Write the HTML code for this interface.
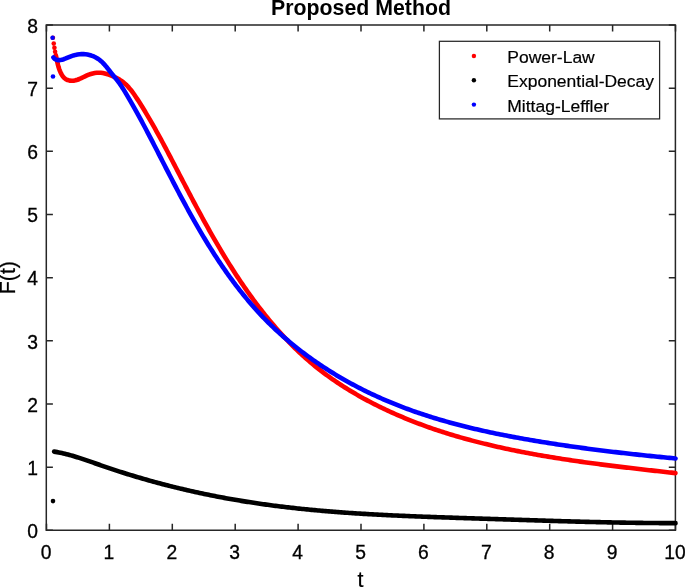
<!DOCTYPE html>
<html><head><meta charset="utf-8"><title>Proposed Method</title>
<style>html,body{margin:0;padding:0;background:#fff;overflow:hidden}svg{display:block}</style></head>
<body><svg width="685" height="587" viewBox="0 0 685 587">
<rect width="685" height="587" fill="#fff"/>
<path d="M46.3 25.0H675.4M46.3 530.3H675.4M46.3 25.0V530.3M675.4 25.0V530.3" fill="none" stroke="#262626" stroke-width="1.5" stroke-linecap="square"/>
<path d="M46.50 530.3V523.70M46.50 25.0V31.60M109.40 530.3V523.70M109.40 25.0V31.60M172.30 530.3V523.70M172.30 25.0V31.60M235.20 530.3V523.70M235.20 25.0V31.60M298.10 530.3V523.70M298.10 25.0V31.60M361.00 530.3V523.70M361.00 25.0V31.60M423.90 530.3V523.70M423.90 25.0V31.60M486.80 530.3V523.70M486.80 25.0V31.60M549.70 530.3V523.70M549.70 25.0V31.60M612.60 530.3V523.70M612.60 25.0V31.60M675.50 530.3V523.70M675.50 25.0V31.60M46.3 530.30H52.90M675.4 530.30H668.80M46.3 467.14H52.90M675.4 467.14H668.80M46.3 403.97H52.90M675.4 403.97H668.80M46.3 340.81H52.90M675.4 340.81H668.80M46.3 277.65H52.90M675.4 277.65H668.80M46.3 214.49H52.90M675.4 214.49H668.80M46.3 151.32H52.90M675.4 151.32H668.80M46.3 88.16H52.90M675.4 88.16H668.80M46.3 25.00H52.90M675.4 25.00H668.80" stroke="#262626" stroke-width="1.5" fill="none"/>
<g font-family="Liberation Sans, Arial, sans-serif" font-size="19.3" fill="#000" stroke="#000" stroke-width="0.3"><text x="46.00" y="559" text-anchor="middle">0</text><text x="108.90" y="559" text-anchor="middle">1</text><text x="171.80" y="559" text-anchor="middle">2</text><text x="234.70" y="559" text-anchor="middle">3</text><text x="297.60" y="559" text-anchor="middle">4</text><text x="360.50" y="559" text-anchor="middle">5</text><text x="423.40" y="559" text-anchor="middle">6</text><text x="486.30" y="559" text-anchor="middle">7</text><text x="549.20" y="559" text-anchor="middle">8</text><text x="612.10" y="559" text-anchor="middle">9</text><text x="675.00" y="559" text-anchor="middle">10</text><text x="38" y="538.10" text-anchor="end">0</text><text x="38" y="474.94" text-anchor="end">1</text><text x="38" y="411.77" text-anchor="end">2</text><text x="38" y="348.61" text-anchor="end">3</text><text x="38" y="285.45" text-anchor="end">4</text><text x="38" y="222.29" text-anchor="end">5</text><text x="38" y="159.12" text-anchor="end">6</text><text x="38" y="95.96" text-anchor="end">7</text><text x="38" y="32.80" text-anchor="end">8</text></g>
<text x="360.5" y="586.6" text-anchor="middle" font-family="Liberation Sans, Arial, sans-serif" font-size="21.3" fill="#000" stroke="#000" stroke-width="0.25">t</text>
<text transform="translate(15.3 277.6) rotate(-90)" x="0" y="0" text-anchor="middle" font-family="Liberation Sans, Arial, sans-serif" font-size="21.3" fill="#000" stroke="#000" stroke-width="0.25">F(t)</text>
<text x="361.0" y="15.4" text-anchor="middle" font-family="Liberation Sans, Arial, sans-serif" font-weight="bold" font-size="21.3" fill="#000">Proposed Method</text>
<path d="M55.81 55.19L56.29 57.23L56.72 59.24L57.14 61.22L57.57 63.18L58.04 65.13L58.56 67.06L59.17 68.98L59.89 70.90L60.74 72.81L61.74 74.68L62.91 76.42L64.28 77.96L65.87 79.20L67.67 80.08L69.63 80.60L71.63 80.79L73.62 80.68L75.56 80.32L77.48 79.74L79.38 79.01L81.26 78.17L83.14 77.27L85.03 76.34L86.93 75.46L88.85 74.65L90.79 73.97L92.77 73.43L94.76 73.04L96.76 72.80L98.77 72.72L100.78 72.81L102.78 73.07L104.76 73.47L106.74 74.00L108.69 74.64L110.63 75.37L112.54 76.16L114.42 77.00L116.27 77.88L118.07 78.83L119.81 79.85L121.50 80.95L123.11 82.13L124.65 83.40L126.12 84.74L127.53 86.15L128.89 87.63L130.20 89.16L131.47 90.74L132.69 92.36L133.89 94.01L135.05 95.70L136.19 97.41L137.32 99.13L138.43 100.86L139.54 102.59L140.63 104.33L141.72 106.07L142.80 107.81L143.87 109.56L144.94 111.31L145.99 113.07L147.04 114.82L148.08 116.58L149.12 118.34L150.15 120.11L151.17 121.88L152.19 123.65L153.20 125.42L154.21 127.20L155.21 128.98L156.20 130.76L157.19 132.54L158.18 134.33L159.16 136.11L160.14 137.90L161.11 139.69L162.08 141.48L163.05 143.28L164.01 145.07L164.97 146.87L165.92 148.67L166.88 150.47L167.83 152.27L168.78 154.07L169.72 155.88L170.67 157.68L171.61 159.49L172.55 161.29L173.50 163.10L174.44 164.91L175.38 166.71L176.31 168.52L177.25 170.33L178.19 172.14L179.13 173.95L180.07 175.76L181.01 177.57L181.95 179.38L182.89 181.19L183.84 183.00L184.78 184.81L185.72 186.61L186.67 188.42L187.62 190.23L188.57 192.04L189.52 193.85L190.47 195.65L191.42 197.46L192.38 199.26L193.33 201.07L194.29 202.87L195.25 204.67L196.21 206.47L197.18 208.27L198.15 210.07L199.12 211.87L200.09 213.66L201.06 215.46L202.04 217.25L203.02 219.04L204.00 220.83L204.99 222.62L205.98 224.41L206.97 226.19L207.96 227.97L208.96 229.75L209.96 231.53L210.97 233.31L211.98 235.09L212.99 236.86L214.00 238.63L215.02 240.40L216.05 242.16L217.07 243.92L218.11 245.69L219.14 247.44L220.18 249.20L221.23 250.95L222.27 252.70L223.33 254.45L224.38 256.19L225.45 257.93L226.51 259.67L227.59 261.40L228.66 263.13L229.75 264.86L230.83 266.59L231.92 268.31L233.02 270.03L234.13 271.74L235.23 273.45L236.35 275.16L237.47 276.86L238.59 278.56L239.73 280.25L240.86 281.94L242.01 283.63L243.16 285.31L244.31 286.99L245.48 288.67L246.64 290.34L247.82 292.00L249.00 293.67L250.19 295.32L251.38 296.97L252.59 298.62L253.79 300.27L255.01 301.90L256.23 303.54L257.46 305.16L258.70 306.79L259.95 308.41L261.20 310.02L262.46 311.63L263.73 313.23L265.00 314.83L266.29 316.42L267.58 318.00L268.88 319.59L270.18 321.16L271.50 322.73L272.82 324.29L274.15 325.85L275.49 327.40L276.84 328.94L278.20 330.48L279.56 332.01L280.93 333.53L282.32 335.05L283.70 336.55L285.10 338.05L286.50 339.53L287.92 341.01L289.34 342.48L290.77 343.94L292.20 345.39L293.65 346.83L295.10 348.26L296.56 349.68L298.03 351.09L299.50 352.49L300.99 353.87L302.48 355.25L303.98 356.61L305.49 357.96L307.01 359.30L308.54 360.63L310.07 361.95L311.62 363.26L313.17 364.56L314.74 365.85L316.31 367.13L317.90 368.39L319.49 369.65L321.09 370.89L322.71 372.13L324.33 373.35L325.97 374.56L327.61 375.76L329.26 376.96L330.92 378.14L332.59 379.31L334.27 380.47L335.96 381.62L337.66 382.76L339.36 383.89L341.07 385.01L342.79 386.12L344.52 387.22L346.25 388.31L347.99 389.39L349.74 390.46L351.50 391.52L353.26 392.56L355.03 393.60L356.80 394.63L358.58 395.65L360.37 396.66L362.16 397.66L363.96 398.65L365.76 399.63L367.57 400.60L369.39 401.56L371.20 402.51L373.03 403.45L374.85 404.38L376.68 405.31L378.52 406.22L380.36 407.12L382.20 408.01L384.04 408.90L385.89 409.77L387.75 410.64L389.60 411.50L391.46 412.34L393.32 413.18L395.19 414.01L397.06 414.83L398.93 415.64L400.81 416.44L402.69 417.24L404.57 418.02L406.45 418.80L408.34 419.57L410.23 420.33L412.13 421.08L414.03 421.82L415.93 422.56L417.83 423.29L419.74 424.00L421.64 424.72L423.56 425.42L425.47 426.11L427.39 426.80L429.31 427.48L431.23 428.15L433.16 428.81L435.08 429.47L437.01 430.12L438.95 430.76L440.88 431.40L442.82 432.02L444.76 432.64L446.70 433.26L448.65 433.86L450.59 434.46L452.54 435.05L454.49 435.64L456.45 436.21L458.40 436.78L460.36 437.35L462.32 437.91L464.28 438.46L466.25 439.00L468.21 439.54L470.18 440.07L472.15 440.60L474.12 441.12L476.09 441.63L478.07 442.14L480.04 442.64L482.02 443.14L484.00 443.63L485.98 444.11L487.97 444.59L489.95 445.07L491.94 445.53L493.92 445.99L495.91 446.45L497.90 446.90L499.89 447.35L501.89 447.79L503.88 448.22L505.88 448.65L507.87 449.08L509.87 449.50L511.87 449.91L513.87 450.33L515.87 450.73L517.87 451.13L519.88 451.53L521.88 451.92L523.89 452.31L525.89 452.69L527.90 453.07L529.91 453.44L531.92 453.82L533.92 454.18L535.93 454.54L537.94 454.90L539.96 455.26L541.97 455.61L543.98 455.95L545.99 456.30L548.01 456.63L550.02 456.97L552.03 457.30L554.05 457.63L556.06 457.95L558.08 458.28L560.10 458.59L562.11 458.91L564.13 459.22L566.15 459.53L568.17 459.83L570.18 460.14L572.20 460.44L574.22 460.73L576.24 461.03L578.26 461.32L580.28 461.61L582.31 461.89L584.33 462.17L586.35 462.45L588.37 462.73L590.39 463.01L592.42 463.28L594.44 463.55L596.46 463.82L598.49 464.08L600.51 464.35L602.53 464.61L604.56 464.87L606.58 465.12L608.61 465.38L610.63 465.63L612.66 465.89L614.68 466.14L616.71 466.38L618.73 466.63L620.76 466.88L622.79 467.12L624.81 467.36L626.84 467.60L628.87 467.84L630.89 468.08L632.92 468.32L634.95 468.55L636.97 468.79L639.00 469.02L641.03 469.25L643.05 469.49L645.08 469.72L647.11 469.95L649.13 470.17L651.16 470.40L653.19 470.63L655.21 470.86L657.24 471.08L659.27 471.31L661.29 471.54L663.32 471.76L665.35 471.99L667.37 472.21L669.40 472.44L671.43 472.66L673.45 472.89L675.48 473.11" fill="none" stroke="#ff0000" stroke-width="4.6" stroke-linecap="round" stroke-linejoin="round"/>
<circle cx="52.9" cy="37.8" r="2.3" fill="#ff0000"/>
<circle cx="53.77" cy="43.6" r="2.3" fill="#ff0000"/>
<circle cx="54.43" cy="47.84" r="2.3" fill="#ff0000"/>
<circle cx="55.1" cy="51.7" r="2.3" fill="#ff0000"/>
<path d="M54.12 451.61L55.68 451.87L57.23 452.14L58.78 452.44L60.32 452.75L61.86 453.08L63.39 453.43L64.92 453.79L66.44 454.17L67.96 454.57L69.48 454.97L70.99 455.39L72.50 455.82L74.01 456.26L75.51 456.72L77.01 457.18L78.51 457.65L80.01 458.13L81.51 458.61L83.00 459.11L84.49 459.61L85.98 460.11L87.47 460.62L88.96 461.13L90.45 461.65L91.94 462.17L93.43 462.69L94.91 463.22L96.40 463.74L97.89 464.26L99.38 464.78L100.86 465.31L102.35 465.82L103.84 466.34L105.33 466.85L106.83 467.36L108.32 467.87L109.81 468.37L111.31 468.87L112.80 469.37L114.30 469.87L115.80 470.36L117.30 470.85L118.80 471.33L120.30 471.82L121.80 472.30L123.30 472.77L124.81 473.25L126.31 473.72L127.82 474.19L129.33 474.65L130.83 475.11L132.34 475.57L133.85 476.03L135.36 476.48L136.87 476.93L138.38 477.38L139.90 477.83L141.41 478.27L142.92 478.71L144.44 479.14L145.96 479.58L147.47 480.01L148.99 480.43L150.51 480.86L152.03 481.28L153.55 481.70L155.07 482.11L156.59 482.53L158.11 482.94L159.64 483.34L161.16 483.75L162.69 484.15L164.21 484.55L165.74 484.94L167.26 485.34L168.79 485.72L170.32 486.11L171.85 486.50L173.38 486.88L174.91 487.26L176.44 487.63L177.97 488.00L179.51 488.37L181.04 488.74L182.57 489.10L184.11 489.46L185.64 489.82L187.18 490.18L188.72 490.53L190.25 490.88L191.79 491.23L193.33 491.57L194.87 491.91L196.41 492.25L197.95 492.59L199.49 492.92L201.03 493.25L202.57 493.58L204.12 493.90L205.66 494.22L207.20 494.54L208.75 494.86L210.29 495.17L211.84 495.48L213.38 495.79L214.93 496.10L216.48 496.40L218.03 496.70L219.57 496.99L221.12 497.29L222.67 497.58L224.22 497.87L225.77 498.15L227.32 498.43L228.87 498.71L230.42 498.99L231.97 499.27L233.53 499.54L235.08 499.81L236.63 500.07L238.19 500.34L239.74 500.60L241.29 500.86L242.85 501.11L244.40 501.36L245.96 501.61L247.52 501.86L249.07 502.10L250.63 502.35L252.19 502.59L253.74 502.82L255.30 503.06L256.86 503.29L258.42 503.51L259.98 503.74L261.53 503.96L263.09 504.18L264.65 504.40L266.21 504.62L267.77 504.83L269.33 505.04L270.90 505.25L272.46 505.45L274.02 505.66L275.58 505.86L277.14 506.06L278.71 506.25L280.27 506.45L281.83 506.64L283.40 506.83L284.96 507.01L286.52 507.20L288.09 507.38L289.65 507.56L291.22 507.74L292.78 507.91L294.35 508.08L295.91 508.25L297.48 508.42L299.05 508.59L300.61 508.76L302.18 508.92L303.75 509.08L305.31 509.24L306.88 509.39L308.45 509.55L310.02 509.70L311.59 509.85L313.15 510.00L314.72 510.14L316.29 510.29L317.86 510.43L319.43 510.57L321.00 510.71L322.57 510.85L324.14 510.98L325.71 511.12L327.28 511.25L328.85 511.38L330.42 511.51L331.99 511.63L333.57 511.76L335.14 511.88L336.71 512.00L338.28 512.12L339.85 512.24L341.43 512.36L343.00 512.47L344.57 512.59L346.14 512.70L347.72 512.81L349.29 512.92L350.86 513.02L352.44 513.13L354.01 513.23L355.58 513.34L357.16 513.44L358.73 513.54L360.31 513.64L361.88 513.73L363.46 513.83L365.03 513.92L366.61 514.02L368.18 514.11L369.75 514.20L371.33 514.29L372.91 514.38L374.48 514.47L376.06 514.55L377.63 514.64L379.21 514.72L380.78 514.80L382.36 514.89L383.94 514.97L385.51 515.05L387.09 515.12L388.66 515.20L390.24 515.28L391.82 515.35L393.39 515.43L394.97 515.50L396.55 515.57L398.12 515.64L399.70 515.71L401.28 515.78L402.85 515.85L404.43 515.92L406.01 515.99L407.59 516.05L409.16 516.12L410.74 516.19L412.32 516.25L413.89 516.31L415.47 516.38L417.05 516.44L418.63 516.50L420.20 516.56L421.78 516.62L423.36 516.68L424.94 516.74L426.51 516.80L428.09 516.86L429.67 516.91L431.25 516.97L432.82 517.03L434.40 517.08L435.98 517.14L437.56 517.19L439.13 517.25L440.71 517.30L442.29 517.35L443.87 517.41L445.44 517.46L447.02 517.51L448.60 517.57L450.17 517.62L451.75 517.67L453.33 517.72L454.91 517.77L456.48 517.83L458.06 517.88L459.64 517.93L461.21 517.98L462.79 518.03L464.37 518.08L465.95 518.13L467.52 518.18L469.10 518.23L470.68 518.28L472.25 518.33L473.83 518.38L475.40 518.43L476.98 518.48L478.56 518.54L480.13 518.59L481.71 518.64L483.28 518.69L484.86 518.74L486.44 518.79L488.01 518.84L489.59 518.89L491.16 518.94L492.74 519.00L494.31 519.05L495.89 519.10L497.46 519.15L499.04 519.20L500.61 519.25L502.19 519.30L503.76 519.36L505.34 519.41L506.91 519.46L508.49 519.51L510.06 519.56L511.64 519.61L513.21 519.66L514.79 519.72L516.36 519.77L517.93 519.82L519.51 519.87L521.08 519.92L522.66 519.97L524.23 520.02L525.81 520.07L527.38 520.12L528.95 520.17L530.53 520.22L532.10 520.27L533.68 520.32L535.25 520.37L536.82 520.42L538.40 520.47L539.97 520.52L541.55 520.57L543.12 520.62L544.69 520.67L546.27 520.72L547.84 520.76L549.42 520.81L550.99 520.86L552.56 520.91L554.14 520.95L555.71 521.00L557.29 521.05L558.86 521.09L560.43 521.14L562.01 521.19L563.58 521.23L565.16 521.28L566.73 521.32L568.30 521.37L569.88 521.41L571.45 521.45L573.03 521.50L574.60 521.54L576.17 521.58L577.75 521.62L579.32 521.67L580.90 521.71L582.47 521.75L584.05 521.79L585.62 521.83L587.20 521.87L588.77 521.91L590.35 521.95L591.92 521.98L593.49 522.02L595.07 522.06L596.64 522.10L598.22 522.13L599.79 522.17L601.37 522.20L602.95 522.24L604.52 522.27L606.10 522.31L607.67 522.34L609.25 522.37L610.82 522.40L612.40 522.44L613.97 522.47L615.55 522.50L617.13 522.53L618.70 522.56L620.28 522.59L621.86 522.61L623.43 522.64L625.01 522.67L626.59 522.69L628.16 522.72L629.74 522.74L631.32 522.77L632.89 522.79L634.47 522.81L636.05 522.84L637.63 522.86L639.20 522.88L640.78 522.90L642.36 522.92L643.94 522.93L645.51 522.95L647.09 522.97L648.67 522.99L650.25 523.00L651.83 523.02L653.41 523.03L654.99 523.04L656.57 523.05L658.15 523.07L659.72 523.08L661.30 523.09L662.88 523.10L664.46 523.10L666.04 523.11L667.62 523.12L669.21 523.12L670.79 523.13L672.37 523.13L673.95 523.13L675.53 523.14" fill="none" stroke="#000000" stroke-width="4.6" stroke-linecap="round" stroke-linejoin="round"/>
<circle cx="53.0" cy="501.1" r="2.3" fill="#000000"/>
<path d="M53.43 57.41L54.77 58.93L56.38 59.80L58.17 60.16L60.04 60.11L61.93 59.77L63.83 59.19L65.74 58.46L67.65 57.65L69.59 56.83L71.54 56.06L73.52 55.40L75.51 54.89L77.52 54.51L79.52 54.26L81.53 54.14L83.52 54.16L85.50 54.31L87.45 54.59L89.38 55.00L91.26 55.54L93.10 56.21L94.90 57.00L96.63 57.93L98.30 58.98L99.90 60.16L101.42 61.45L102.88 62.86L104.28 64.35L105.63 65.91L106.94 67.51L108.22 69.13L109.48 70.77L110.74 72.39L111.99 73.97L113.25 75.51L114.51 77.02L115.76 78.53L116.99 80.05L118.19 81.60L119.36 83.20L120.50 84.83L121.61 86.50L122.71 88.19L123.78 89.90L124.84 91.63L125.88 93.37L126.92 95.11L127.95 96.86L128.97 98.61L129.99 100.36L131.00 102.11L132.00 103.86L133.00 105.62L133.99 107.37L134.98 109.13L135.96 110.89L136.93 112.64L137.91 114.40L138.87 116.16L139.83 117.93L140.79 119.69L141.75 121.45L142.70 123.22L143.64 124.98L144.59 126.75L145.53 128.51L146.46 130.28L147.40 132.05L148.33 133.82L149.25 135.59L150.18 137.36L151.10 139.13L152.03 140.91L152.95 142.68L153.86 144.45L154.78 146.23L155.70 148.00L156.61 149.78L157.52 151.56L158.44 153.33L159.35 155.11L160.26 156.89L161.17 158.67L162.08 160.45L163.00 162.23L163.91 164.01L164.82 165.79L165.74 167.57L166.65 169.35L167.57 171.13L168.49 172.92L169.41 174.70L170.33 176.48L171.25 178.27L172.18 180.05L173.10 181.83L174.03 183.62L174.96 185.40L175.90 187.18L176.84 188.96L177.77 190.75L178.72 192.53L179.66 194.31L180.61 196.09L181.56 197.87L182.51 199.64L183.47 201.42L184.42 203.20L185.39 204.97L186.35 206.74L187.32 208.52L188.29 210.29L189.27 212.05L190.25 213.82L191.23 215.59L192.22 217.35L193.21 219.11L194.20 220.87L195.20 222.62L196.20 224.38L197.21 226.13L198.22 227.87L199.24 229.62L200.26 231.36L201.28 233.10L202.31 234.84L203.35 236.57L204.38 238.30L205.43 240.03L206.48 241.76L207.53 243.48L208.59 245.19L209.65 246.91L210.72 248.61L211.80 250.32L212.88 252.02L213.96 253.72L215.05 255.41L216.15 257.10L217.25 258.78L218.36 260.46L219.48 262.14L220.60 263.81L221.73 265.47L222.86 267.13L224.00 268.79L225.15 270.44L226.30 272.08L227.46 273.72L228.62 275.36L229.80 276.98L230.97 278.61L232.16 280.22L233.35 281.84L234.55 283.44L235.76 285.04L236.98 286.63L238.20 288.22L239.43 289.80L240.67 291.37L241.91 292.94L243.16 294.50L244.42 296.06L245.69 297.60L246.97 299.14L248.25 300.68L249.54 302.20L250.84 303.72L252.15 305.23L253.47 306.73L254.79 308.23L256.13 309.72L257.47 311.20L258.82 312.67L260.18 314.14L261.55 315.59L262.93 317.04L264.32 318.48L265.71 319.91L267.12 321.34L268.53 322.75L269.96 324.16L271.39 325.56L272.83 326.94L274.28 328.33L275.74 329.70L277.21 331.06L278.68 332.42L280.17 333.76L281.66 335.10L283.16 336.43L284.67 337.75L286.19 339.06L287.71 340.36L289.25 341.66L290.79 342.94L292.34 344.22L293.90 345.49L295.46 346.75L297.03 348.00L298.61 349.24L300.20 350.48L301.79 351.70L303.40 352.92L305.00 354.13L306.62 355.33L308.24 356.52L309.87 357.70L311.51 358.87L313.15 360.03L314.80 361.19L316.46 362.34L318.12 363.47L319.79 364.60L321.46 365.72L323.14 366.83L324.83 367.94L326.52 369.03L328.22 370.12L329.93 371.19L331.64 372.26L333.36 373.32L335.08 374.37L336.81 375.41L338.54 376.44L340.28 377.46L342.02 378.47L343.77 379.48L345.52 380.47L347.28 381.46L349.05 382.44L350.81 383.41L352.59 384.37L354.37 385.32L356.15 386.26L357.93 387.19L359.73 388.12L361.52 389.03L363.32 389.94L365.12 390.84L366.93 391.73L368.74 392.60L370.56 393.47L372.38 394.34L374.20 395.19L376.03 396.03L377.86 396.86L379.69 397.69L381.53 398.50L383.37 399.31L385.22 400.11L387.06 400.90L388.91 401.68L390.77 402.45L392.62 403.21L394.48 403.96L396.34 404.71L398.21 405.45L400.08 406.18L401.95 406.90L403.82 407.61L405.70 408.31L407.58 409.01L409.46 409.70L411.35 410.38L413.24 411.05L415.13 411.71L417.02 412.37L418.92 413.02L420.82 413.66L422.72 414.30L424.62 414.92L426.53 415.54L428.44 416.15L430.35 416.76L432.26 417.36L434.18 417.95L436.10 418.53L438.02 419.11L439.94 419.68L441.86 420.25L443.79 420.80L445.72 421.36L447.65 421.90L449.58 422.44L451.52 422.97L453.45 423.50L455.39 424.01L457.33 424.53L459.27 425.04L461.22 425.54L463.16 426.03L465.11 426.52L467.06 427.01L469.01 427.49L470.96 427.96L472.92 428.43L474.87 428.89L476.83 429.34L478.78 429.80L480.74 430.24L482.71 430.68L484.67 431.12L486.63 431.55L488.60 431.98L490.56 432.40L492.53 432.82L494.50 433.23L496.47 433.64L498.44 434.04L500.41 434.44L502.38 434.83L504.35 435.22L506.33 435.61L508.30 435.99L510.28 436.37L512.25 436.75L514.23 437.12L516.21 437.48L518.19 437.84L520.17 438.20L522.15 438.56L524.13 438.91L526.11 439.26L528.09 439.61L530.07 439.95L532.06 440.29L534.04 440.62L536.02 440.95L538.01 441.28L539.99 441.61L541.97 441.94L543.96 442.26L545.94 442.58L547.93 442.89L549.91 443.20L551.90 443.51L553.88 443.82L555.87 444.13L557.85 444.43L559.84 444.73L561.83 445.03L563.81 445.32L565.80 445.61L567.79 445.90L569.77 446.19L571.76 446.47L573.75 446.75L575.74 447.03L577.73 447.31L579.72 447.59L581.71 447.86L583.69 448.13L585.68 448.40L587.67 448.66L589.66 448.93L591.65 449.19L593.65 449.45L595.64 449.70L597.63 449.96L599.62 450.21L601.61 450.46L603.60 450.71L605.60 450.95L607.59 451.20L609.58 451.44L611.57 451.68L613.57 451.92L615.56 452.15L617.56 452.39L619.55 452.62L621.54 452.85L623.54 453.08L625.54 453.31L627.53 453.53L629.53 453.75L631.52 453.97L633.52 454.19L635.52 454.41L637.51 454.63L639.51 454.84L641.51 455.05L643.51 455.27L645.50 455.48L647.50 455.68L649.50 455.89L651.50 456.10L653.50 456.30L655.50 456.50L657.50 456.70L659.50 456.90L661.50 457.10L663.50 457.29L665.50 457.49L667.51 457.68L669.51 457.87L671.51 458.07L673.51 458.26L675.52 458.44" fill="none" stroke="#0000ff" stroke-width="4.6" stroke-linecap="round" stroke-linejoin="round"/>
<circle cx="52.6" cy="37.75" r="2.3" fill="#0000ff"/>
<circle cx="52.98" cy="76.45" r="2.3" fill="#0000ff"/>
<rect x="439.4" y="41.3" width="220.20000000000005" height="77.60000000000001" fill="#fff" stroke="#262626" stroke-width="1.25"/>
<circle cx="473.9" cy="56.0" r="2.2" fill="#ff0000"/>
<text transform="translate(507.3 63.00) scale(1 0.92)" x="0" y="0" font-family="Liberation Sans, Arial, sans-serif" font-size="17.5" fill="#000" stroke="#000" stroke-width="0.2">Power-Law</text>
<circle cx="473.9" cy="80.3" r="2.2" fill="#000000"/>
<text transform="translate(507.3 87.30) scale(1 0.92)" x="0" y="0" font-family="Liberation Sans, Arial, sans-serif" font-size="17.5" fill="#000" stroke="#000" stroke-width="0.2">Exponential-Decay</text>
<circle cx="473.9" cy="104.6" r="2.2" fill="#0000ff"/>
<text transform="translate(507.3 111.60) scale(1 0.92)" x="0" y="0" font-family="Liberation Sans, Arial, sans-serif" font-size="17.5" fill="#000" stroke="#000" stroke-width="0.2">Mittag-Leffler</text>
</svg></body></html>
